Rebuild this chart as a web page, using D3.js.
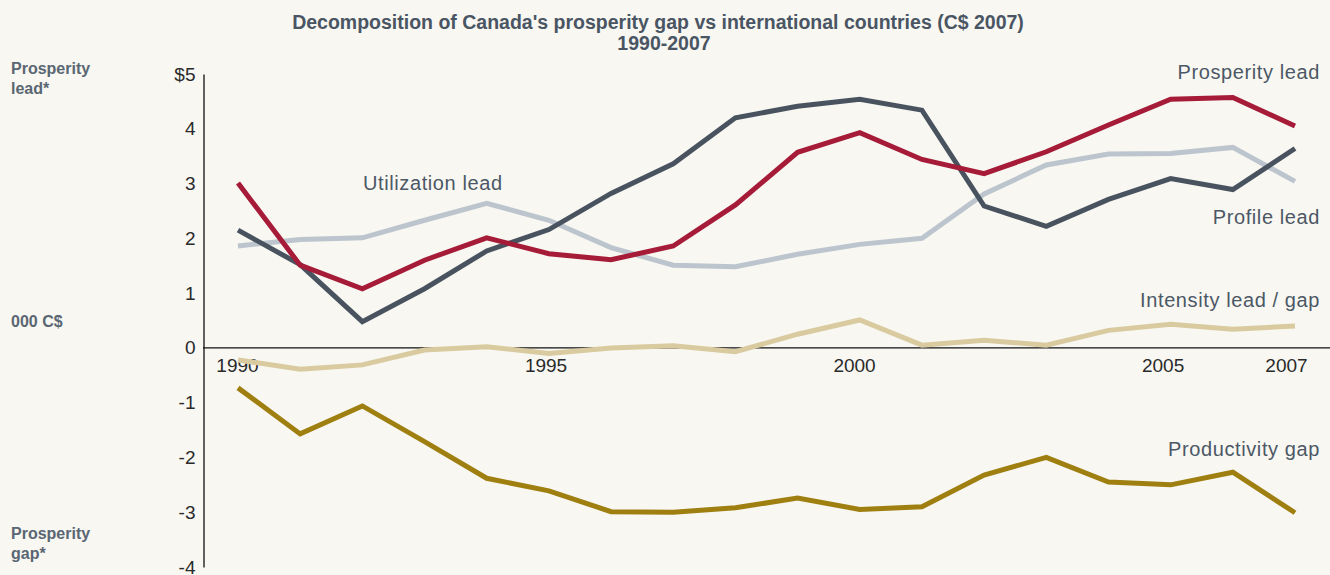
<!DOCTYPE html>
<html>
<head>
<meta charset="utf-8">
<script src="https://cdn.jsdelivr.net/npm/d3@7"></script>
<style>
  body { margin: 0; background: #f8f7f2; }
  svg { display: block; font-family: "Liberation Sans", Arial, sans-serif; }
</style>
</head>
<body>
<div id="chart"></div>
<script>
var svgWidth = 1330;
var svgHeight = 575;

// data, one value per year 1990-2007
var years = d3.range(1990, 2008);
var prosperityLead = [3.01, 1.51, 1.08, 1.60, 2.01, 1.72, 1.61, 1.86, 2.61, 3.57, 3.93, 3.44, 3.18, 3.58, 4.07, 4.54, 4.57, 4.05];
var profileLead = [2.15, 1.52, 0.48, 1.08, 1.77, 2.16, 2.82, 3.36, 4.20, 4.41, 4.54, 4.34, 2.59, 2.22, 2.71, 3.09, 2.89, 3.64];
var utilizationLead = [1.86, 1.98, 2.01, 2.33, 2.64, 2.33, 1.83, 1.51, 1.48, 1.71, 1.89, 2.00, 2.81, 3.34, 3.54, 3.55, 3.66, 3.04];
var intensityLead = [-0.22, -0.39, -0.31, -0.04, 0.02, -0.10, 0.00, 0.04, -0.07, 0.25, 0.51, 0.05, 0.14, 0.05, 0.32, 0.43, 0.34, 0.40];
var productivityGap = [-0.73, -1.57, -1.06, -1.71, -2.38, -2.61, -2.99, -3.00, -2.92, -2.74, -2.95, -2.90, -2.32, -2.00, -2.45, -2.50, -2.27, -3.01];

var xTicks = [1990, 1995, 2000, 2005, 2007];
var yTicks = [-4, -3, -2, -1, 0, 1, 2, 3, 4, 5];

var series = [
  { name: "Utilization lead", values: utilizationLead, color: "#bcc5cd" },
  { name: "Intensity lead / gap", values: intensityLead, color: "#d9cb9f" },
  { name: "Productivity gap", values: productivityGap, color: "#9e7f10" },
  { name: "Profile lead", values: profileLead, color: "#48535f" },
  { name: "Prosperity lead", values: prosperityLead, color: "#a51b38" }
];

var svg = d3.select("#chart")
  .append("svg")
  .attr("width", svgWidth)
  .attr("height", svgHeight);

svg.append("rect")
  .attr("width", svgWidth)
  .attr("height", svgHeight)
  .attr("fill", "#f8f7f2");

// scales
var xScale = d3.scaleLinear().domain([1990, 2007]).range([238, 1295]);
// tick labels sit a little left of the data points in the original
var xLabelScale = d3.scaleLinear().domain([1990, 2007]).range([237, 1286]);
var yScale = d3.scaleLinear().domain([-4, 5]).range([567, 74]);

// title
svg.append("text")
  .attr("x", 658).attr("y", 28.5)
  .attr("text-anchor", "middle")
  .attr("font-size", 19.5).attr("font-weight", "bold")
  .attr("fill", "#4a5563")
  .text("Decomposition of Canada's prosperity gap vs international countries (C$ 2007)");
svg.append("text")
  .attr("x", 664).attr("y", 49.5)
  .attr("text-anchor", "middle")
  .attr("font-size", 19.5).attr("font-weight", "bold")
  .attr("fill", "#4a5563")
  .text("1990-2007");

// y axis: line plus labels, no ticks
var leftAxis = d3.axisLeft(yScale)
  .tickValues(yTicks)
  .tickSize(0)
  .tickPadding(8)
  .tickFormat(d => d === 5 ? "$5" : String(d));

var yAxisG = svg.append("g")
  .attr("transform", "translate(203.5,0)")
  .call(leftAxis);
yAxisG.select(".domain").attr("stroke", "#111").attr("stroke-width", 1.3);
yAxisG.selectAll("text")
  .attr("font-size", 19)
  .attr("font-family", "Liberation Sans, Arial, sans-serif")
  .attr("fill", "#2a2a2a");

// zero line
svg.append("line")
  .attr("x1", 203).attr("x2", svgWidth)
  .attr("y1", yScale(0)).attr("y2", yScale(0))
  .attr("stroke", "#111").attr("stroke-width", 1.3);

// x labels
var bottomAxis = d3.axisBottom(xLabelScale)
  .tickValues(xTicks)
  .tickSize(0)
  .tickPadding(11)
  .tickFormat(d => String(d));

var xAxisG = svg.append("g")
  .attr("transform", `translate(0, ${yScale(0)})`)
  .call(bottomAxis);
xAxisG.select(".domain").remove();
xAxisG.selectAll("text")
  .attr("font-size", 19)
  .attr("font-family", "Liberation Sans, Arial, sans-serif")
  .attr("fill", "#2a2a2a");

// lines
var line = d3.line()
  .x((d, i) => xScale(years[i]))
  .y(d => yScale(d));

svg.selectAll(".series")
  .data(series)
  .enter()
  .append("path")
  .attr("class", "series")
  .attr("d", d => line(d.values))
  .attr("fill", "none")
  .attr("stroke", d => d.color)
  .attr("stroke-width", 5)
  .attr("stroke-linejoin", "miter");

// series labels
var seriesLabels = [
  { text: "Prosperity lead", x: 1320, y: 79, anchor: "end" },
  { text: "Profile lead", x: 1320, y: 224, anchor: "end" },
  { text: "Utilization lead", x: 363, y: 190, anchor: "start" },
  { text: "Intensity lead / gap", x: 1320, y: 307, anchor: "end" },
  { text: "Productivity gap", x: 1320, y: 456, anchor: "end" }
];

svg.selectAll(".series-label")
  .data(seriesLabels)
  .enter()
  .append("text")
  .attr("class", "series-label")
  .attr("x", d => d.x)
  .attr("y", d => d.y)
  .attr("text-anchor", d => d.anchor)
  .attr("font-size", 20)
  .attr("letter-spacing", 0.6)
  .attr("fill", "#4c5865")
  .text(d => d.text);

// left side notes
var sideNotes = [
  { lines: ["Prosperity", "lead*"], y: 74 },
  { lines: ["000 C$"], y: 327 },
  { lines: ["Prosperity", "gap*"], y: 539 }
];

sideNotes.forEach(function(note) {
  var t = svg.append("text")
    .attr("x", 11)
    .attr("y", note.y)
    .attr("font-size", 16)
    .attr("font-weight", "bold")
    .attr("fill", "#5a6672");
  note.lines.forEach(function(l, i) {
    t.append("tspan")
      .attr("x", 11)
      .attr("dy", i === 0 ? 0 : 19.5)
      .text(l);
  });
});
</script>
</body>
</html>
